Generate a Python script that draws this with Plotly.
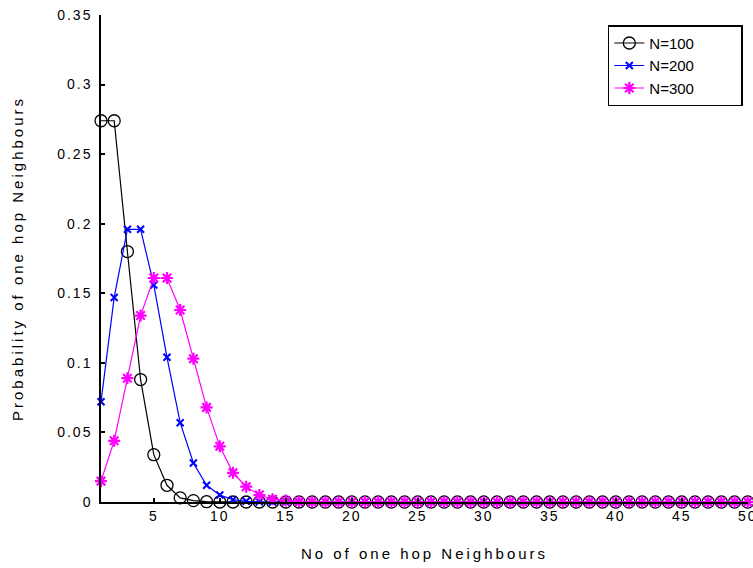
import plotly.graph_objects as go

x_vals = list(range(1, 51))
p_n100 = [0.274, 0.274, 0.180, 0.088, 0.034, 0.012, 0.003, 0.001, 0.0002, 0.0,
          0, 0, 0, 0, 0, 0, 0, 0, 0, 0,
          0, 0, 0, 0, 0, 0, 0, 0, 0, 0,
          0, 0, 0, 0, 0, 0, 0, 0, 0, 0,
          0, 0, 0, 0, 0, 0, 0, 0, 0, 0]
p_n200 = [0.072, 0.147, 0.196, 0.196, 0.156, 0.104, 0.057, 0.028, 0.012, 0.005,
          0.0017, 0.0005, 0.0001, 0, 0, 0, 0, 0, 0, 0,
          0, 0, 0, 0, 0, 0, 0, 0, 0, 0,
          0, 0, 0, 0, 0, 0, 0, 0, 0, 0,
          0, 0, 0, 0, 0, 0, 0, 0, 0, 0]
p_n300 = [0.015, 0.044, 0.089, 0.134, 0.161, 0.161, 0.138, 0.103, 0.068, 0.040,
          0.021, 0.011, 0.005, 0.002, 0.001, 0.0003, 0.0001, 0, 0, 0,
          0, 0, 0, 0, 0, 0, 0, 0, 0, 0,
          0, 0, 0, 0, 0, 0, 0, 0, 0, 0,
          0, 0, 0, 0, 0, 0, 0, 0, 0, 0]
series_names = ["N=100", "N=200", "N=300"]
x_ticks = [5, 10, 15, 20, 25, 30, 35, 40, 45, 50]
y_ticks = [0, 0.05, 0.1, 0.15, 0.2, 0.25, 0.3, 0.35]
y_tick_text = ["0", "0.05", "0.1", "0.15", "0.2", "0.25", "0.3", "0.35"]

font_family = "Liberation Sans, Arial, sans-serif"
pad = "\u00a0" * 10  # widen legend box like the reference

fig = go.Figure()
fig.add_trace(go.Scatter(
    x=x_vals, y=p_n100, name=series_names[0] + pad, mode="lines+markers",
    line=dict(color="black", width=1.2), cliponaxis=False,
    marker=dict(symbol="circle-open", size=12, color="black", line=dict(width=1.3)),
))
fig.add_trace(go.Scatter(
    x=x_vals, y=p_n200, name=series_names[1] + pad, mode="lines+markers",
    line=dict(color="#0000ff", width=1.2), cliponaxis=False,
    marker=dict(symbol="x-thin-open", size=7, color="#0000ff", line=dict(width=2)),
))
fig.add_trace(go.Scatter(
    x=x_vals, y=p_n300, name=series_names[2] + pad, mode="lines+markers",
    line=dict(color="#ff00ff", width=1.2), cliponaxis=False,
    marker=dict(symbol="asterisk-open", size=10, color="#ff00ff", line=dict(width=2.2)),
))

fig.update_layout(
    width=753, height=568,
    margin=dict(l=101, r=5, t=15, b=66),
    paper_bgcolor="white", plot_bgcolor="white",
    font=dict(family=font_family, size=14, color="black"),
    showlegend=True,
    legend=dict(
        x=0.992, y=0.979, xanchor="right", yanchor="top",
        bgcolor="white", bordercolor="black", borderwidth=1.5,
        font=dict(size=15, family=font_family),
        tracegroupgap=0,
    ),
    xaxis=dict(
        range=[1, 50.02], tickvals=x_ticks, ticktext=[str(v) for v in x_ticks],
        ticks="inside", ticklen=4, tickwidth=1.5, tickcolor="black",
        showline=True, linecolor="black", linewidth=1.5,
        showgrid=False, zeroline=False, automargin=False,
        ticklabeloverflow="allow",
        title=dict(text="No of one hop Neighbours", font=dict(size=15), standoff=26),
        tickfont=dict(size=14),
    ),
    yaxis=dict(
        range=[0, 0.35], tickvals=y_ticks, ticktext=y_tick_text,
        ticks="inside", ticklen=4, tickwidth=1.5, tickcolor="black",
        showline=True, linecolor="black", linewidth=1.5,
        showgrid=False, zeroline=False, automargin=False,
        ticklabelstandoff=4,
        title=dict(text="Probability of one hop Neighbours", font=dict(size=15), standoff=38),
        tickfont=dict(size=14),
    ),
)

post = """
document.body.style.margin='0';
document.body.style.overflow='hidden';
var gd = document.getElementById('{plot_id}');
function spaceText(){
  gd.querySelectorAll('.xtick text, .ytick text').forEach(function(e){ e.style.letterSpacing='2px'; });
  gd.querySelectorAll('.g-xtitle text, .g-ytitle text').forEach(function(e){ e.style.letterSpacing='3px'; });
}
spaceText();
gd.on('plotly_afterplot', spaceText);
"""

fig.write_html("out.html", post_script=post, config={"displayModeBar": False})
